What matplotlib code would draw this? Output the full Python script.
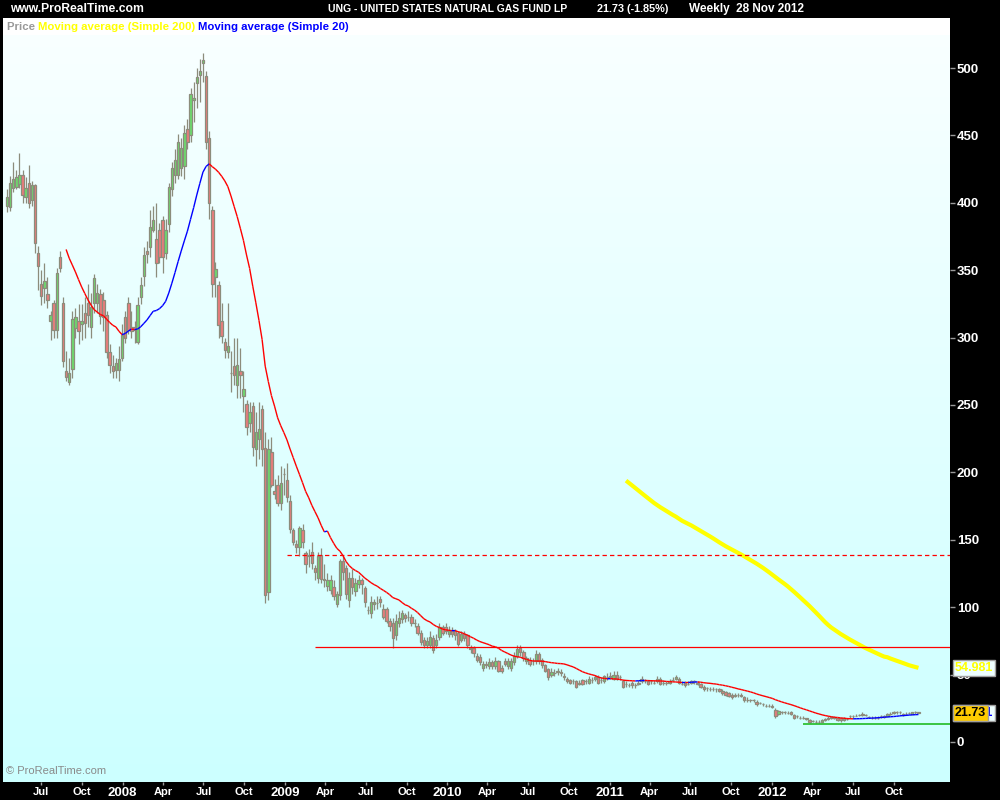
import numpy as np
import pandas as pd
import matplotlib
matplotlib.use('Agg')
import matplotlib.pyplot as plt
import matplotlib.dates as mdates
from matplotlib.collections import LineCollection
from matplotlib.transforms import blended_transform_factory

# weekly bars, UNG, Apr 2007 - Nov 2012
weeks = pd.date_range('2007-04-16', periods=294, freq='W-MON')

opens = [
    398, 397, 411, 412, 414, 421, 404, 415, 402, 413,   # 0
    363, 340, 337, 332, 312, 326, 306, 360, 326, 275,   # 10
    267, 277, 307, 312, 310, 318, 326, 308, 326, 326,   # 20
    332, 328, 317, 289, 279, 276, 276, 285, 315, 326,   # 30
    308, 308, 297, 330, 346, 364, 367, 380, 373, 380,   # 40
    387, 363, 384, 410, 421, 421, 426, 427, 455, 450,   # 50
    476, 489, 495, 504, 494, 448, 395, 345, 339, 312,   # 60
    297, 289, 274, 279, 265, 275, 257, 251, 237, 249,   # 70
    217, 225, 247, 218, 111, 215, 186, 191, 177, 199,   # 80
    194, 179, 157, 147, 145, 157, 140, 138, 141, 129,   # 90
    122, 139, 121, 116, 113, 115, 102, 109, 134, 129,   # 100
    105, 122, 112, 117, 120, 114, 98, 96, 102, 103,     # 110
    106, 99, 99, 90, 88, 79, 88, 91, 94, 93,            # 120
    93, 88, 86, 81, 76, 72, 72, 77, 72, 78,             # 130
    85, 85, 80, 83, 82, 81, 76, 80, 79, 70,             # 140
    70, 64, 63, 55, 58, 56, 59, 56, 60, 55,             # 150
    60, 56, 55, 59, 64, 70, 67, 60, 61, 60,             # 160
    60, 65, 61, 57, 54, 50, 51, 52, 52, 49,             # 170
    47, 46, 45, 45, 43, 46, 45, 44, 46, 47,             # 180
    48, 46, 45, 48, 48, 47, 50, 48, 45, 43,             # 190
    42, 44, 42, 43, 45, 45, 45, 45, 44, 45,             # 200
    47, 44, 44, 44, 46, 47, 47, 43, 44, 43,             # 210
    44, 45, 44, 43, 41, 40, 39, 39, 39, 39,             # 220
    38, 37, 36, 35, 34, 35, 35, 33, 31, 31,             # 230
    31, 30, 29, 28, 27, 27, 27, 24, 21, 22,             # 240
    22, 21.5, 22, 20, 19, 18, 18, 17.5, 16.5, 15.5,     # 250
    15, 15, 15, 16, 17, 17.5, 18, 18, 17.5, 16,         # 260
    17, 19, 19, 19.5, 20, 21, 20, 18.5, 18, 18,         # 270
    18, 19, 18.5, 19, 21, 21.5, 22, 22, 21, 21,         # 280
    21.5, 21, 22, 22.1,                                 # 290
]
closes = [
    404, 415, 418, 419, 421, 406, 411, 400, 413, 370,
    353, 331, 342, 328, 317, 306, 348, 352, 283, 271,
    274, 314, 315, 305, 312, 311, 317, 323, 344, 333,
    316, 315, 289, 280, 275, 281, 284, 302, 300, 306,
    305, 306, 324, 339, 361, 362, 382, 387, 355, 360,
    360, 380, 412, 426, 432, 445, 441, 452, 445, 481,
    478, 493, 498, 506, 445, 400, 340, 351, 309, 301,
    291, 294, 274, 272, 280, 272, 262, 234, 245, 219,
    230, 232, 217, 109, 217, 191, 184, 177, 192, 199,
    182, 158, 148, 145, 159, 148, 132, 139, 133, 126,
    138, 121, 120, 120, 120, 108, 110, 134, 126, 110,
    122, 115, 118, 120, 117, 104, 98, 104, 104, 103,
    104, 93, 90, 86, 77, 90, 92, 96, 92, 93,
    88, 88, 81, 74, 72, 75, 78, 68, 76, 85,
    81, 82, 83, 80, 79, 73, 80, 77, 72, 69,
    66, 61, 59, 58, 57, 59, 56, 60, 53, 53,
    58, 60, 60, 64, 69, 67, 62, 62, 58, 60,
    65, 60, 57, 53, 48, 52, 51, 53, 51, 48,
    45, 44, 45, 41, 44, 43, 45, 47, 46, 48,
    44, 46, 49, 48, 49, 50, 47, 48, 41, 43,
    42, 42, 42, 44, 47, 45, 43, 45, 44, 47,
    43, 44, 44, 45, 46, 48, 44, 43, 42, 43,
    45, 45, 43, 41, 39, 40, 39, 39, 39, 38,
    36, 35, 34, 33, 35, 35, 34, 31, 31, 31,
    31, 28, 29, 28, 27, 27, 26, 19, 23, 22,
    22, 21.5, 21, 18, 19, 18, 18, 17, 15, 15.5,
    15, 15, 16, 17, 18, 18.5, 18, 16, 16, 18,
    17, 19, 19, 19.5, 20, 20, 20, 18.5, 18, 18,
    18, 19, 19.5, 21, 21, 22, 22, 22, 20, 21,
    21.5, 22, 22, 21.73,
]
highs = [
    410, 420, 430, 424, 437, 424, 419, 428, 416, 414,
    368, 350, 355, 345, 320, 328, 352, 364, 330, 290,
    285, 320, 322, 325, 325, 330, 340, 333, 347, 340,
    336, 334, 320, 295, 287, 285, 294, 310, 320, 330,
    320, 312, 330, 345, 367, 372, 395, 398, 400, 385,
    390, 388, 415, 430, 440, 451, 448, 458, 462, 485,
    490, 500, 507, 511, 498, 453, 398, 356, 342, 326,
    300, 326, 290, 300, 300, 292, 275, 254, 252, 252,
    245, 252, 250, 230, 225, 226, 195, 198, 205, 203,
    207, 183, 159, 150, 160, 162, 142, 143, 148, 131,
    141, 144, 132, 125, 124, 120, 112, 136, 138, 131,
    126, 128, 122, 124, 122, 116, 101, 108, 106, 108,
    108, 102, 100, 92, 92, 95, 97, 98, 96, 97,
    95, 91, 88, 83, 78, 78, 82, 79, 80, 88,
    87, 88, 86, 85, 84, 82, 82, 82, 80, 72,
    71, 66, 65, 60, 60, 62, 61, 63, 61, 57,
    62, 62, 62, 67, 72, 72, 68, 64, 63, 62,
    68, 67, 62, 58, 55, 55, 54, 55, 54, 51,
    48, 47, 47, 46, 46, 47, 47, 49, 48, 50,
    50, 48, 50, 51, 52, 53, 53, 50, 46, 45,
    44, 45, 44, 46, 49, 47, 46, 46, 46, 49,
    48, 46, 45, 47, 48, 50, 48, 45, 45, 45,
    46, 46, 45, 44, 42, 41, 41, 41, 40, 40,
    39, 38, 37, 36, 36, 36, 36, 34, 33, 32,
    32, 31, 30, 29, 28, 28, 28, 25, 24, 23,
    23, 23, 23, 21, 20, 19, 19, 18, 17, 16.5,
    16, 16, 17, 18, 19, 19.5, 19, 18.5, 18, 18.5,
    18, 20, 20, 21, 21, 22, 21, 19.5, 19, 19,
    19, 20, 20, 21.5, 22, 23, 23, 23, 21.5, 22,
    22.5, 22.5, 23, 22.5,
]
lows = [
    393, 394, 408, 410, 411, 400, 400, 396, 398, 363,
    335, 324, 326, 322, 298, 300, 300, 349, 278, 268,
    265, 270, 300, 295, 298, 300, 308, 300, 318, 318,
    310, 305, 285, 274, 270, 270, 268, 283, 296, 303,
    300, 296, 295, 325, 338, 355, 360, 378, 345, 355,
    348, 358, 378, 405, 415, 418, 420, 418, 440, 445,
    460, 470, 475, 490, 440, 388, 330, 330, 300, 296,
    285, 285, 260, 265, 255, 255, 245, 228, 230, 212,
    205, 210, 205, 103, 105, 189, 180, 175, 172, 183,
    178, 155, 146, 140, 138, 144, 125, 130, 128, 120,
    118, 118, 115, 112, 110, 105, 100, 105, 120, 106,
    100, 110, 108, 114, 110, 100, 95, 92, 98, 99,
    100, 91, 88, 82, 70, 76, 85, 88, 89, 90,
    86, 85, 79, 72, 70, 70, 70, 66, 70, 76,
    79, 80, 78, 78, 76, 71, 74, 75, 70, 66,
    63, 59, 57, 53, 55, 54, 54, 54, 52, 51,
    56, 54, 53, 57, 62, 64, 60, 58, 56, 57,
    58, 58, 55, 52, 46, 48, 49, 50, 49, 46,
    44, 43, 43, 40, 42, 42, 43, 43, 44, 45,
    43, 44, 44, 46, 47, 46, 46, 46, 40, 41,
    41, 40, 40, 42, 44, 44, 42, 43, 43, 44,
    42, 42, 42, 43, 45, 46, 43, 42, 41, 42,
    43, 43, 42, 40, 38, 38, 38, 38, 37, 37,
    35, 34, 33, 32, 33, 33, 33, 30, 30, 30,
    30, 27, 28, 27, 26, 26, 25, 18, 20, 21,
    21, 21, 20, 17, 18, 17, 17, 16, 14, 14.5,
    14, 14, 14.5, 15.5, 16.5, 17, 17, 15.5, 15, 15.5,
    16, 18, 18, 19, 19, 19.5, 19, 18, 17, 17,
    17, 18, 18, 18.5, 20, 21, 21, 21, 19.5, 20,
    21, 20.5, 21, 21.3,
]

# horizontal drawings
dashed_level, dashed_start = 138.7, '2009-01-05'
solid_level, solid_start = 70.5, '2009-03-09'
green_level, green_start = 13.4, '2012-03-12'

tick_dates = ['2007-07-01', '2007-10-01', '2008-01-01', '2008-04-01', '2008-07-01',
              '2008-10-01', '2009-01-01', '2009-04-01', '2009-07-01', '2009-10-01',
              '2010-01-01', '2010-04-01', '2010-07-01', '2010-10-01', '2011-01-01',
              '2011-04-01', '2011-07-01', '2011-10-01', '2012-01-01', '2012-04-01',
              '2012-07-01', '2012-10-01']
tick_labels = ['Jul', 'Oct', '2008', 'Apr', 'Jul', 'Oct', '2009', 'Apr', 'Jul', 'Oct',
               '2010', 'Apr', 'Jul', 'Oct', '2011', 'Apr', 'Jul', 'Oct', '2012', 'Apr',
               'Jul', 'Oct']
y_ticks = [0, 50, 100, 150, 200, 250, 300, 350, 400, 450, 500]

o = np.array(opens, float)
c = np.array(closes, float)
h = np.array(highs, float)
l = np.array(lows, float)
xd = mdates.date2num(weeks)

ma20 = pd.Series(c).rolling(20).mean().values
ma200 = pd.Series(c).rolling(200).mean().values

plt.rcParams['font.family'] = ['Liberation Sans', 'DejaVu Sans']

fig = plt.figure(figsize=(10, 8), dpi=100, facecolor='black')
ax = fig.add_axes([0.003, 0.0225, 0.947, 0.93375])

x0 = xd[0] - 9
x1 = xd[0] + 2122
y0, y1 = -29.7, 524.5
ax.set_xlim(x0, x1)
ax.set_ylim(y0, y1)

# background gradient
grad = np.linspace(0, 1, 256)[:, None]
top = np.array([0.975, 1.0, 1.0])
bot = np.array([0.80, 1.0, 1.0])
img = top[None, None, :] * (1 - grad[:, :, None]) + bot[None, None, :] * grad[:, :, None]
ax.imshow(img, extent=[x0, x1, y0, y1], aspect='auto', origin='upper', zorder=0)

# candles
edge = '#8c8c7c'
body_col = np.where(c >= o, '#6ddc6d', '#ee7b7b')
ax.vlines(xd, l, h, color=edge, lw=0.9, zorder=2)
ax.bar(xd, np.abs(c - o), bottom=np.minimum(o, c), width=5.4, color=body_col,
       edgecolor=edge, linewidth=0.9, zorder=3)

# MA 20 coloured by slope
pts = np.column_stack([xd, ma20])
idx = np.where(~np.isnan(ma20))[0]
segs, cols = [], []
for i in idx[:-1]:
    segs.append([pts[i], pts[i + 1]])
    cols.append('#0000ff' if ma20[i + 1] > ma20[i] else '#ff0000')
ax.add_collection(LineCollection(segs, colors=cols, linewidths=1.0, zorder=4))

# MA 200
ax.plot(xd, ma200, color='#ffff00', lw=3.0, zorder=4, solid_capstyle='butt')

# horizontal lines
ax.hlines(dashed_level, mdates.date2num(pd.Timestamp(dashed_start)), x1, color='#ff0000',
          lw=0.9, linestyles=(0, (3.5, 2.5)), zorder=5)
ax.hlines(solid_level, mdates.date2num(pd.Timestamp(solid_start)), x1, color='#ff0000',
          lw=0.9, zorder=5)
ax.hlines(green_level, mdates.date2num(pd.Timestamp(green_start)), x1, color='#22bb22',
          lw=1.2, zorder=5)

for s in ax.spines.values():
    s.set_visible(False)

# axes ticks
ax.yaxis.tick_right()
ax.set_yticks(y_ticks)
ax.set_yticklabels([str(v) for v in y_ticks])
ax.tick_params(axis='y', colors='#9a9a9a', labelcolor='white', direction='out',
               length=3.5, width=1, pad=1.5, labelsize=9.5)
for t in ax.get_yticklabels():
    t.set_fontweight('bold')

ax.set_xticks(mdates.date2num(pd.to_datetime(tick_dates)))
ax.set_xticklabels(tick_labels)
ax.tick_params(axis='x', colors='#9a9a9a', labelcolor='white', direction='out',
               length=2.5, width=1, pad=1.0, labelsize=8)
for t in ax.get_xticklabels():
    t.set_fontweight('bold')
    if t.get_text().isdigit():
        t.set_fontsize(9.5)

# price labels on the right axis
tr = blended_transform_factory(ax.transAxes, ax.transData)
lx = (955 - 3) / 947
ax.text(lx, ma200[-1], f'{ma200[-1]:.3f}', transform=tr, ha='left', va='center',
        color='#ffff00', fontsize=9, fontweight='bold', clip_on=False, zorder=10,
        bbox=dict(boxstyle='square,pad=0.15', fc='#eeffff', ec='#a0a0a0', lw=1))
ax.text(lx, c[-1], f'{ma20[-1]:.3f}', transform=tr, ha='left', va='center',
        color='#0000ff', fontsize=9, fontweight='bold', clip_on=False, zorder=10,
        bbox=dict(boxstyle='square,pad=0.15', fc='#eeffff', ec='#a0a0a0', lw=1))
ax.text(lx, c[-1], f'{c[-1]:.2f}', transform=tr, ha='left', va='center',
        color='black', fontsize=9, fontweight='bold', clip_on=False, zorder=11,
        bbox=dict(boxstyle='square,pad=0.15', fc='#ffcc00', ec='#a0a0a0', lw=1))

# copyright
ax.text(0.003, 0.008, '\u00a9 ProRealTime.com', transform=ax.transAxes, color='#8a8a8a',
        fontsize=8, ha='left', va='bottom', zorder=6)

# legend strip
fig.patches.append(plt.Rectangle((0.003, 0.95625), 0.947, 0.02125, transform=fig.transFigure,
                                 facecolor='white', edgecolor='none', zorder=0))
lt = fig.text(0.007, 0.966, 'Price ', color='#999999', fontsize=8.2, fontweight='bold',
              va='center', ha='left')
fig.canvas.draw()
r = fig.canvas.get_renderer()
xpos = lt.get_window_extent(r).x1 / 1000
t2 = fig.text(xpos, 0.966, 'Moving average (Simple 200) ', color='#ffff00', fontsize=8.2,
              fontweight='bold', va='center', ha='left')
xpos = t2.get_window_extent(r).x1 / 1000
fig.text(xpos, 0.966, 'Moving average (Simple 20)', color='#0000ff', fontsize=8.2,
         fontweight='bold', va='center', ha='left')

# header
fig.text(0.010, 0.9885, 'www.ProRealTime.com', color='white', fontsize=8.7, fontweight='bold',
         va='center', ha='left')
fig.text(0.328, 0.9885, 'UNG - UNITED STATES NATURAL GAS FUND LP', color='white',
         fontsize=7.5, fontweight='bold', va='center', ha='left')
fig.text(0.597, 0.9885, '21.73 (-1.85%)', color='white', fontsize=7.8, fontweight='bold',
         va='center', ha='left')
fig.text(0.689, 0.9885, 'Weekly  28 Nov 2012', color='white', fontsize=8.5,
         fontweight='bold', va='center', ha='left')

fig.savefig('out.png', dpi=100, facecolor='black')
